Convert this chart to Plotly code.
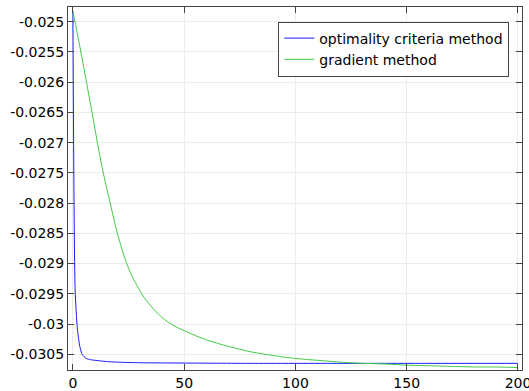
import plotly.graph_objects as go

# Optimality criteria method (blue)
oc_x = [0, 1, 2, 3, 4, 5, 6, 8, 10, 15, 20, 30, 50, 80, 120, 160, 200]
oc_y = [-0.02483, -0.02944, -0.03007, -0.03035, -0.03049, -0.03054, -0.03057,
        -0.03059, -0.03060, -0.03062, -0.03063, -0.03064, -0.030645, -0.03065,
        -0.03065, -0.03065, -0.03065]

# Gradient method (green)
gr_x = [0, 2, 4, 6, 8, 10, 12, 14, 16, 18, 20, 22, 24, 26, 28, 30, 32, 35, 38,
        40, 45, 50, 55, 60, 66, 70, 80, 90, 100, 110, 120, 130, 140, 150, 160,
        170, 180, 190, 200]
gr_y = [-0.02483, -0.02520, -0.02558, -0.02598, -0.02638, -0.02679, -0.02720,
        -0.02756, -0.02788, -0.02820, -0.02850, -0.02876, -0.02898, -0.02916,
        -0.02931, -0.02944, -0.02956, -0.02970, -0.02982, -0.02989, -0.03002,
        -0.03011, -0.03019, -0.03026, -0.03033, -0.03037, -0.03046, -0.03052,
        -0.03057, -0.03060, -0.03063, -0.03065, -0.03066, -0.03068, -0.03069,
        -0.03070, -0.03071, -0.03071, -0.03072]

x_ticks = [0, 50, 100, 150, 200]
y_ticks = [-0.025, -0.0255, -0.026, -0.0265, -0.027, -0.0275, -0.028, -0.0285,
           -0.029, -0.0295, -0.03, -0.0305]
y_labels = ["-0.025", "-0.0255", "-0.026", "-0.0265", "-0.027", "-0.0275",
            "-0.028", "-0.0285", "-0.029", "-0.0295", "-0.03", "-0.0305"]

fig = go.Figure()
fig.add_trace(go.Scatter(x=oc_x, y=oc_y, mode="lines", name="optimality criteria method",
                         line=dict(color="#1a1aff", width=1, shape="spline", smoothing=0.6)))
fig.add_trace(go.Scatter(x=gr_x, y=gr_y, mode="lines", name="gradient method",
                         line=dict(color="#44cc44", width=1, shape="spline", smoothing=1.0)))

axis_common = dict(showline=True, linecolor="#444", linewidth=1, mirror="ticks",
                   ticks="inside", ticklen=6, tickcolor="#444", showgrid=True,
                   gridcolor="#ececec", gridwidth=1, zeroline=False, automargin=False,
                   tickfont=dict(family="DejaVu Sans", size=14, color="black"))

fig.update_xaxes(range=[-2.2, 201.8], tickvals=x_ticks, ticktext=[str(v) for v in x_ticks],
                 ticklabeloverflow="allow", **axis_common)
fig.update_yaxes(range=[-0.03076, -0.024757], tickvals=y_ticks, ticktext=y_labels,
                 **axis_common)

fig.update_layout(
    width=529, height=391,
    margin=dict(l=68, r=7, t=7, b=21),
    plot_bgcolor="white", paper_bgcolor="white",
    font=dict(family="DejaVu Sans", size=14, color="black"),
    legend=dict(x=0.972, y=0.96, xanchor="right", yanchor="top",
                bgcolor="white", bordercolor="#444", borderwidth=1,
                font=dict(family="DejaVu Sans", size=14, color="black"),
                tracegroupgap=0, itemwidth=30),
    showlegend=True,
)

fig.write_html("out.html")
